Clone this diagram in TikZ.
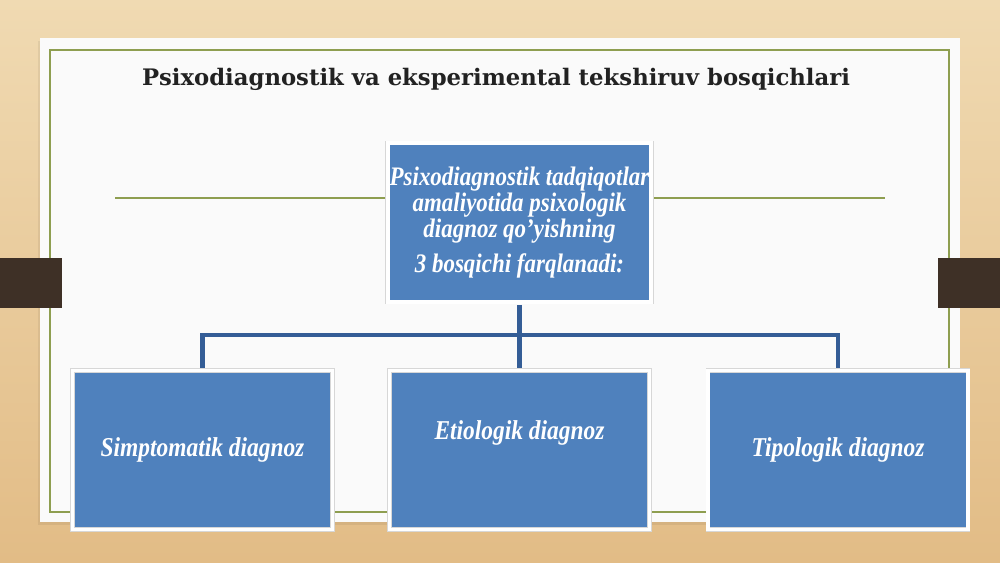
\documentclass[tikz,border=0pt]{standalone}
\usepackage{fontspec}
\setmainfont{Liberation Serif}
\newfontfamily\titlefont{DejaVu Serif}
\newfontfamily\boxfont[FakeStretch=0.86]{Liberation Serif}
\usetikzlibrary{positioning}
\definecolor{wood}{RGB}{226,188,134}
\definecolor{woodlight}{RGB}{240,218,178}
\definecolor{paper}{RGB}{250,250,250}
\definecolor{olive}{RGB}{142,158,80}
\definecolor{tabbrown}{RGB}{62,48,38}
\definecolor{stageblue}{RGB}{79,129,189}
\definecolor{linkblue}{RGB}{52,93,150}
\definecolor{titleink}{RGB}{34,34,34}

\begin{document}
\begin{tikzpicture}[x=0.02cm,y=-0.02cm,
    stagebox/.style={rectangle,fill=stageblue,draw={rgb,255:red,215;green,215;blue,215},
      line width=0.4pt,double=white,double distance=2pt,
      minimum width=5.2cm,minimum height=3.18cm,inner sep=1pt,
      text=white,align=center,font=\boxfont\bfseries\itshape\fontsize{15.5}{18}\selectfont},
    link/.style={draw=linkblue,line width=2.3pt,shorten <=1.4pt,shorten >=1.4pt}]
      \shade[top color=woodlight,bottom color=wood] (0,0) rectangle (1000,562);
      \useasboundingbox (0,0) rectangle (1000,562);
      \fill[black,opacity=0.06] (38,41) rectangle (959,525);
      \fill[paper] (40,38) rectangle (960,522);
      \draw[olive,line width=0.8pt] (50,50) rectangle (949,512);
      \fill[tabbrown] (0,258) rectangle (62,308);
      \fill[tabbrown] (938,258) rectangle (1000,308);

      \node[font=\titlefont\bfseries\fontsize{12.95}{16}\selectfont,text=titleink,anchor=base] (title) at (496,85)
        {Psixodiagnostik va eksperimental tekshiruv bosqichlari};

      \coordinate (ruleL) at (115,198);
      \coordinate (ruleR) at (885,198);
      \draw[olive,line width=0.8pt] (ruleL) -- (ruleR);

      \node[stagebox,font=\boxfont\bfseries\itshape\fontsize{15.2}{14.8}\selectfont] (stages) at (519.5,222.5)
        {Psixodiagnostik tadqiqotlar\\amaliyotida psixologik\\diagnoz qo’yishning\\[5pt]3 bosqichi farqlanadi:};

      \node[stagebox] (symptom) at (202.5,450) {Simptomatik diagnoz};
      \node[stagebox] (etiology) at (519.5,450) {\raisebox{0.8cm}{Etiologik diagnoz}};
      \node[stagebox] (typology) at (838,450) {Tipologik diagnoz};

      \coordinate (fork) at (519.5,335);
      \draw[link] (stages.south) -- (etiology.north);
      \draw[link] (symptom.north) |- (fork) -| (typology.north);
\end{tikzpicture}
\end{document}
